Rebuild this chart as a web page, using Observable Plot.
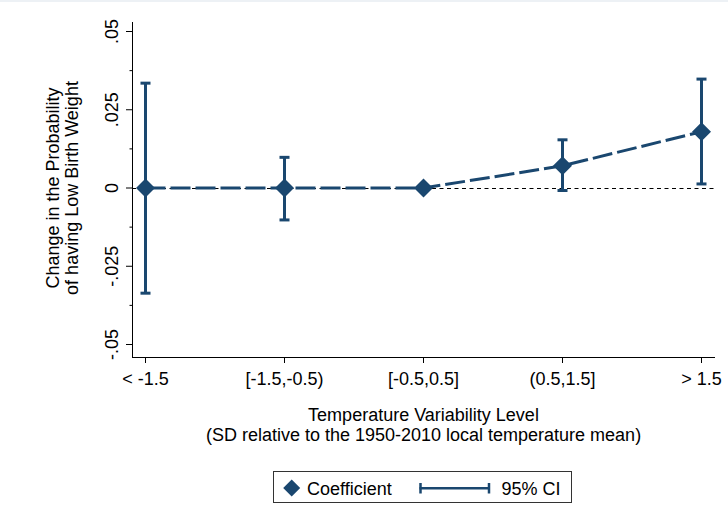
<!DOCTYPE html>
<html>
<head>
<meta charset="utf-8">
<script src="https://cdn.jsdelivr.net/npm/d3@7"></script>
<script src="https://cdn.jsdelivr.net/npm/@observablehq/plot@0.6"></script>
<style>
  html, body { margin: 0; padding: 0; background: #ffffff; }
  body { width: 728px; height: 529px; position: relative; overflow: hidden; font-family: "Liberation Sans", Arial, sans-serif; }
  #topstrip { position: absolute; left: 0; top: 0; width: 728px; height: 2px; background: #edf1f5; }
  #chart { position: absolute; left: 0; top: 0; }
  #legend { position: absolute; left: 273px; top: 471px; width: 297px; height: 30px; border: 1px solid #333; background: #fff; }
  #legend svg { display: block; }
</style>
</head>
<body>
<div id="chart"></div>
<div id="topstrip"></div>
<div id="legend"></div>
<script>
// ---- data ----
const categories = ["< -1.5", "[-1.5,-0.5)", "[-0.5,0.5]", "(0.5,1.5]", "> 1.5"];
const coefficients = [0, 0, 0, 0.0071, 0.018];
const ciLower = [-0.0336, -0.0102, null, -0.0008, 0.0013];
const ciUpper = [0.0335, 0.0098, null, 0.0154, 0.0348];
const yTicks = [-0.05, -0.025, 0, 0.025, 0.05];
const yTickLabels = ["-.05", "-.025", "0", ".025", ".05"];
const yMinorTicks = [-0.0375, -0.0125, 0.0125, 0.0375];
const yTitle = "Change in the Probability\nof having Low Birth Weight";
const xTitle = "Temperature Variability Level\n(SD relative to the 1950-2010 local temperature mean)";
const legendLabels = ["Coefficient", "95% CI"];

const navy = "#1a476f";

const rows = categories.map((c, i) => ({cat: c, coef: coefficients[i]}));
const ciRows = categories
  .map((c, i) => ({cat: c, lo: ciLower[i], hi: ciUpper[i]}))
  .filter(d => d.lo != null && d.hi != null);

// custom symbols
const diamondSymbol = {draw(ctx, size) { const h = Math.sqrt(size / Math.PI); ctx.moveTo(0, -h); ctx.lineTo(h, 0); ctx.lineTo(0, h); ctx.lineTo(-h, 0); ctx.closePath(); }};
const capSymbol = {draw(ctx, size) { const h = Math.sqrt(size / Math.PI); ctx.moveTo(-h, 0); ctx.lineTo(h, 0); }};
const leftTickSymbol = {draw(ctx, size) { const h = Math.sqrt(size / Math.PI); ctx.moveTo(-h, 0); ctx.lineTo(0, 0); }};

const chart = Plot.plot({
  width: 728,
  height: 460,
  marginLeft: 132,
  marginRight: 14,
  marginTop: 22,
  marginBottom: 103,
  style: {fontFamily: "'Liberation Sans', Arial, sans-serif", fontSize: "18px", color: "#000", background: "transparent", overflow: "visible"},
  x: {type: "point", domain: categories, padding: 0.083, tickSize: 6, tickPadding: 9, line: true, label: null},
  y: {domain: [-0.05415, 0.05288], ticks: yTicks, tickFormat: () => "", tickSize: 6, line: true, label: null},
  marks: [
    Plot.ruleY([0], {stroke: "#000", strokeWidth: 1, strokeDasharray: "4,3.5", dy: 0.5}),
    Plot.line(rows, {x: "cat", y: "coef", stroke: navy, strokeWidth: 3, strokeDasharray: "20,5", strokeLinecap: "butt"}),
    Plot.ruleX(ciRows, {x: "cat", y1: "lo", y2: "hi", stroke: navy, strokeWidth: 3}),
    Plot.dot(ciRows, {x: "cat", y: "lo", symbol: capSymbol, r: 5, stroke: navy, strokeWidth: 3, fill: "none"}),
    Plot.dot(ciRows, {x: "cat", y: "hi", symbol: capSymbol, r: 5, stroke: navy, strokeWidth: 3, fill: "none"}),
    Plot.dot(rows, {x: "cat", y: "coef", symbol: diamondSymbol, r: 9.5, fill: navy, stroke: "none"}),
    Plot.dot(yMinorTicks, {y: d => d, frameAnchor: "left", symbol: leftTickSymbol, r: 3, stroke: "#000", strokeWidth: 1, fill: "none"}),
    Plot.text(yTicks, {y: d => d, text: (d, i) => yTickLabels[i], frameAnchor: "left", dx: -15, rotate: -90, textAnchor: "middle", lineAnchor: "bottom", fill: "#000", fontSize: 18}),
    Plot.text([yTitle], {text: d => d, frameAnchor: "left", dx: -54.5, dy: -2, rotate: -90, textAnchor: "middle", lineAnchor: "bottom", lineHeight: 1.08, fill: "#000", fontSize: 18}),
    Plot.text([xTitle], {text: d => d, frameAnchor: "bottom", dy: 83, textAnchor: "middle", lineAnchor: "bottom", lineHeight: 1.08, fill: "#000", fontSize: 18})
  ]
});
document.getElementById("chart").appendChild(chart);

// ---- legend (below the plot) ----
const lg = d3.select("#legend").append("svg").attr("width", 297).attr("height", 30)
  .style("font-family", "'Liberation Sans', Arial, sans-serif").style("font-size", "18px");
lg.append("path").attr("d", "M17.7,7.5 L26.2,16 L17.7,24.5 L9.2,16 Z").attr("fill", navy);
lg.append("text").attr("x", 33).attr("y", 22.5).attr("fill", "#000").text(legendLabels[0]);
lg.append("line").attr("x1", 145.5).attr("x2", 216).attr("y1", 16.3).attr("y2", 16.3).attr("stroke", navy).attr("stroke-width", 2.5);
lg.append("line").attr("x1", 146.5).attr("x2", 146.5).attr("y1", 11).attr("y2", 21.5).attr("stroke", navy).attr("stroke-width", 2.5);
lg.append("line").attr("x1", 215).attr("x2", 215).attr("y1", 11).attr("y2", 21.5).attr("stroke", navy).attr("stroke-width", 2.5);
lg.append("text").attr("x", 227.5).attr("y", 22.5).attr("fill", "#000").text(legendLabels[1]);
</script>
</body>
</html>
